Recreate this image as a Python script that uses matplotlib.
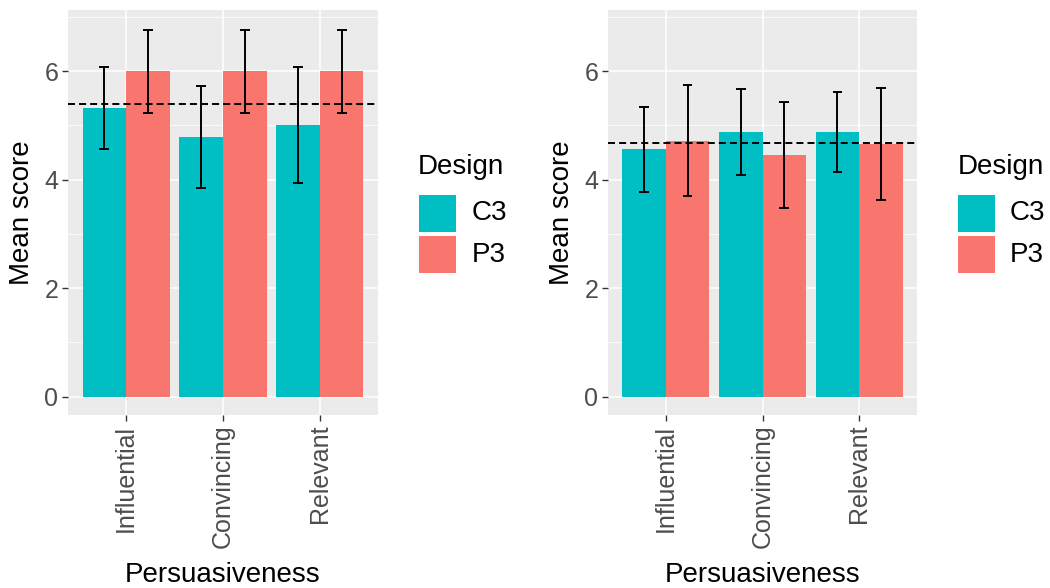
import matplotlib
matplotlib.use("Agg")
import matplotlib.pyplot as plt
from matplotlib.patches import Rectangle
import numpy as np

plt.rcParams['font.family'] = ['Liberation Sans', 'DejaVu Sans']

categories = ["Influential", "Convincing", "Relevant"]
designs = ["C3", "P3"]
colors = {"C3": "#00BFC4", "P3": "#F8766D"}

# Left panel
left_means = {"C3": [5.32, 4.78, 5.0], "P3": [6.0, 6.0, 6.0]}
left_errs = {"C3": [0.76, 0.94, 1.07], "P3": [0.77, 0.77, 0.77]}
left_ref = 5.40

# Right panel
right_means = {"C3": [4.56, 4.88, 4.88], "P3": [4.72, 4.46, 4.66]}
right_errs = {"C3": [0.79, 0.79, 0.73], "P3": [1.02, 0.98, 1.03]}
right_ref = 4.68

y_ticks = [0, 2, 4, 6]
y_minor = [1, 3, 5, 7]

W, H = 1050, 588
fig = plt.figure(figsize=(W / 100, H / 100), dpi=100)

def px_axes(x0, x1, y0, y1):
    return fig.add_axes([x0 / W, 1 - y1 / H, (x1 - x0) / W, (y1 - y0) / H])

def draw_panel(ax, means, errs, ref):
    ax.set_facecolor("#EBEBEB")
    x = np.arange(1, len(categories) + 1)
    bw = 0.45
    offs = {"C3": -0.225, "P3": 0.225}
    for d in designs:
        ax.bar(x + offs[d], means[d], width=bw, color=colors[d], zorder=3, linewidth=0)
    for d in designs:
        ax.errorbar(x + offs[d], means[d], yerr=errs[d], fmt="none", ecolor="black",
                    elinewidth=1.4, capsize=0, zorder=5)
        m = np.array(means[d]); e = np.array(errs[d])
        for xi, lo, hi in zip(x + offs[d], m - e, m + e):
            ax.plot([xi - 0.05, xi + 0.05], [hi, hi], color="black", lw=1.4, zorder=5, solid_capstyle="butt")
            ax.plot([xi - 0.05, xi + 0.05], [lo, lo], color="black", lw=1.4, zorder=5, solid_capstyle="butt")
    ax.axhline(ref, color="black", lw=1.4, dashes=(3.6, 2.1), zorder=6)
    ax.set_xlim(0.4, 3.6)
    ax.set_ylim(-0.34, 7.13)
    ax.set_yticks(y_ticks)
    ax.set_yticks(y_minor, minor=True)
    ax.set_xticks(x)
    ax.set_xticklabels(categories, rotation=90, fontsize=18, color="#4D4D4D")
    ax.set_yticklabels([str(t) for t in y_ticks], fontsize=18, color="#4D4D4D")
    ax.grid(which="major", color="white", lw=1.1, zorder=0)
    ax.grid(which="minor", axis="y", color="white", lw=0.55, zorder=0)
    ax.set_axisbelow(True)
    for s in ax.spines.values():
        s.set_visible(False)
    ax.tick_params(axis="both", which="major", length=4, width=1.0, color="#333333", pad=3)
    ax.tick_params(axis="both", which="minor", length=0)
    ax.set_xlabel("Persuasiveness", fontsize=20, color="black")
    ax.set_ylabel("Mean score", fontsize=20, color="black")
    ax.xaxis.label.set_va("center")
    ax.yaxis.label.set_va("center")
    ax.xaxis.set_label_coords(0.5, (415 - 575) / 405)
    ax.yaxis.set_label_coords((22 - 68) / 310, 0.5)

def draw_legend(x_title, x_key, x_text):
    fig.text(x_title / W, 1 - 167 / H, "Design", fontsize=20, va="center", ha="left", color="black")
    for d, (y0, y1) in zip(designs, [(195, 232), (236, 273)]):
        fig.patches.append(Rectangle((x_key / W, 1 - y1 / H), 37 / W, (y1 - y0) / H,
                                     transform=fig.transFigure, facecolor=colors[d],
                                     edgecolor="none", figure=fig))
        fig.text(x_text / W, 1 - (y0 + y1) / 2 / H, d, fontsize=20, va="center", ha="left", color="black")

ax1 = px_axes(68, 378, 10, 415)
draw_panel(ax1, left_means, left_errs, left_ref)
ax2 = px_axes(608, 917, 10, 415)
draw_panel(ax2, right_means, right_errs, right_ref)
ax2.yaxis.set_label_coords((562 - 608) / 309, 0.5)

draw_legend(418, 419, 472)
draw_legend(958, 958, 1010)

fig.savefig("out.png", dpi=100)
